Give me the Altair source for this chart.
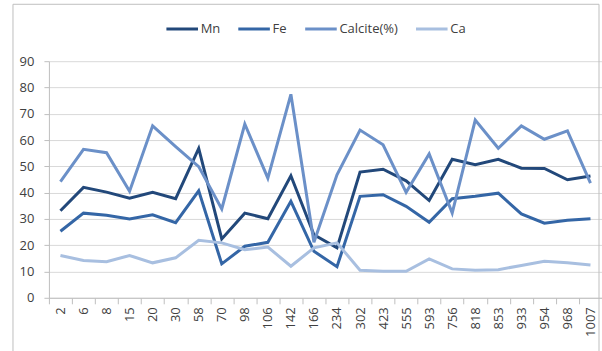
import altair as alt
import pandas as pd

# Sample depths along the section (categorical axis)
depths = ["2", "6", "8", "15", "20", "30", "58", "70", "98", "106", "142", "166",
          "234", "302", "423", "555", "593", "756", "818", "853", "933", "954", "968", "1007"]

mn = [33.1, 42.0, 40.2, 37.9, 40.1, 37.7, 56.8, 22.4, 32.2, 30.1, 46.4, 24.0,
      19.0, 47.8, 48.9, 44.5, 37.0, 52.7, 50.6, 52.7, 49.3, 49.2, 44.9, 46.3]
fe = [25.3, 32.2, 31.4, 30.0, 31.6, 28.6, 40.7, 12.9, 19.6, 21.1, 36.7, 17.7,
      11.8, 38.6, 39.2, 34.8, 28.7, 37.7, 38.6, 39.8, 31.9, 28.4, 29.5, 30.1]
calcite = [44.2, 56.5, 55.2, 40.5, 65.4, 57.5, 49.9, 33.8, 66.1, 45.5, 77.4, 21.1,
           46.8, 63.8, 58.2, 40.1, 54.7, 32.2, 67.6, 56.9, 65.4, 60.3, 63.5, 43.6]
ca = [16.1, 14.2, 13.7, 16.1, 13.3, 15.2, 21.9, 20.9, 18.3, 19.3, 12.0, 19.0,
      20.9, 10.5, 10.1, 10.1, 14.8, 11.0, 10.5, 10.7, 12.3, 13.9, 13.3, 12.5]

series_names = ["Mn", "Fe", "Calcite(%)", "Ca"]
series_colors = ["#22487A", "#3466A6", "#6B90C8", "#A8BFE0"]

rows = []
for name, values in zip(series_names, [mn, fe, calcite, ca]):
    for d, v in zip(depths, values):
        rows.append({"depth": d, "series": name, "value": v})
df = pd.DataFrame(rows)

FONT = "Open Sans"
AXIS_GREY = "#BFBFBF"

lines = alt.Chart(df).mark_line(strokeWidth=3).encode(
    x=alt.X(
        "depth:N",
        sort=depths,
        scale=alt.Scale(type="band", paddingInner=0, paddingOuter=0),
        bandPosition=0.5,
        axis=alt.Axis(
            title=None, labelAngle=-90, tickBand="extent", grid=False,
            domainColor=AXIS_GREY, tickColor=AXIS_GREY, tickSize=6,
            labelPadding=3, labelFont=FONT, labelFontSize=13, labelColor="#404040",
        ),
    ),
    y=alt.Y(
        "value:Q",
        scale=alt.Scale(domain=[0, 90], nice=False),
        axis=alt.Axis(
            title=None, values=list(range(0, 100, 10)), grid=True, gridColor="#D9D9D9",
            domainColor=AXIS_GREY, tickColor=AXIS_GREY, tickSize=5,
            labelPadding=10, labelFont=FONT, labelFontSize=13, labelColor="#404040",
        ),
    ),
    color=alt.Color(
        "series:N",
        sort=series_names,
        scale=alt.Scale(domain=series_names, range=series_colors),
        legend=alt.Legend(
            title=None, orient="none", direction="horizontal",
            legendX=116, legendY=-50,
            symbolType="stroke", symbolSize=1000, symbolStrokeWidth=3,
            labelFont=FONT, labelFontSize=13, labelColor="#404040",
            labelOffset=1, columnPadding=11,
        ),
    ),
    order=alt.Order("depth_idx:Q"),
).transform_calculate(
    depth_idx="indexof(" + str(depths) + ", datum.depth)"
)

# Outer frame around the whole chart
frame = alt.Chart(pd.DataFrame({"k": [0]})).mark_rect(
    fill="transparent", stroke=AXIS_GREY, strokeWidth=1
).encode(
    x=alt.value(-36), x2=alt.value(551), y=alt.value(-57), y2=alt.value(330)
)

chart = alt.layer(frame, lines).properties(
    width=554, height=237,
    autosize=alt.AutoSizeParams(type="none"),
    padding={"left": 49, "top": 61, "right": 0, "bottom": 53},
    background="white",
).configure_view(strokeWidth=0)

chart.save("out.html", embed_options={"renderer": "svg", "actions": False})
